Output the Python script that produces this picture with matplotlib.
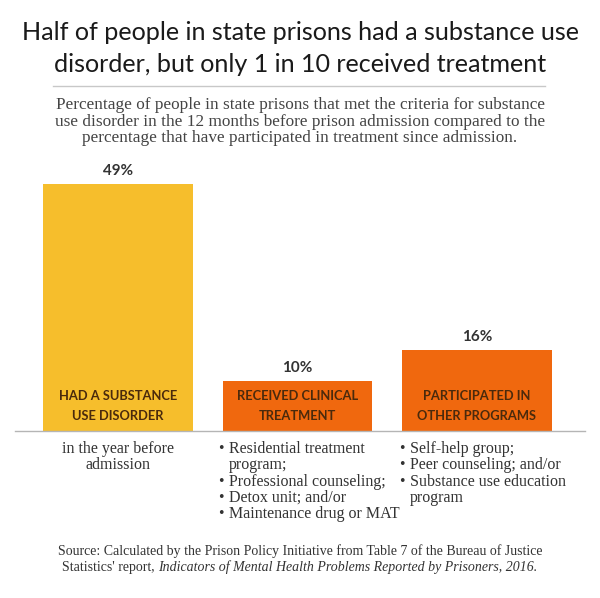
import matplotlib
matplotlib.use("Agg")
import matplotlib.pyplot as plt
from matplotlib.lines import Line2D

# data
values = [49, 10, 16]
bar_labels = [["HAD A SUBSTANCE", "USE DISORDER"],
              ["RECEIVED CLINICAL", "TREATMENT"],
              ["PARTICIPATED IN", "OTHER PROGRAMS"]]
bar_colors = ["#F6BE2C", "#F0680E", "#F0680E"]
notes = [
    ["in the year before", "admission"],
    ["Residential treatment", "program;", "Professional counseling;",
     "Detox unit; and/or", "Maintenance drug or MAT"],
    ["Self-help group;", "Peer counseling; and/or",
     "Substance use education", "program"],
]
# which note lines start with a bullet
note_bullets = [
    [False, False],
    [True, False, True, True, True],
    [True, True, True, False],
]

title_lines = ["Half of people in state prisons had a substance use",
               "disorder, but only 1 in 10 received treatment"]
subtitle_lines = [
    "Percentage of people in state prisons that met the criteria for substance",
    "use disorder in the 12 months before prison admission compared to the",
    "percentage that have participated in treatment since admission.",
]
source_1 = ("Source: Calculated by the Prison Policy Initiative from Table 7 of the "
            "Bureau of Justice")
source_2a = "Statistics' report, "
source_2b = "Indicators of Mental Health Problems Reported by Prisoners, 2016."

SANS = "Lato"
SERIF = "Liberation Serif"
W, H = 600, 598

fig = plt.figure(figsize=(6.0, 5.98), dpi=100)
fig.patch.set_facecolor("white")


def fy(py):
    # pixel from top -> figure fraction
    return 1 - py / H


def fx(px):
    return px / W


# title + rule
for y, line in zip([33, 65], title_lines):
    fig.text(0.5, fy(y), line, ha="center", va="center", fontsize=18.1,
             family=SANS, color="#1a1a1a")
fig.add_artist(Line2D([fx(53), fx(545)], [fy(86), fy(86)],
                      color="#c8c8c8", lw=1.0))
for y, line in zip([105, 122, 138], subtitle_lines):
    fig.text(0.5, fy(y), line, ha="center", va="center", fontsize=12.4,
             family=SERIF, color="#444444")

# bars
base_px = 431
px_per_unit = 5.04
top_lim = 60
ax = fig.add_axes([fx(15), fy(base_px), fx(585) - fx(15),
                   top_lim * px_per_unit / H])
pos = list(range(len(values)))
ax.bar(pos, values, width=0.835, color=bar_colors, zorder=2)
ax.set_xlim(-0.574, 2.602)
ax.set_ylim(0, top_lim)
for s in ["top", "right", "left"]:
    ax.spines[s].set_visible(False)
ax.spines["bottom"].set_color("#b5b5b5")
ax.spines["bottom"].set_linewidth(1.0)
ax.set_xticks([])
ax.set_yticks([])
ax.patch.set_alpha(0)

for p, v, lab in zip(pos, values, bar_labels):
    ax.annotate(f"{v}%", (p, v), xytext=(0, 13), textcoords="offset pixels",
                ha="center", va="center", fontsize=11, family=SANS,
                fontweight="bold", color="#333333")
    for k, line in enumerate(lab):
        ax.annotate(line, (p, 0), xytext=(0, 35 - 20 * k),
                    textcoords="offset pixels", ha="center", va="center",
                    fontsize=9.3, family=SANS, fontweight="bold",
                    color="#4a2a0c")

# notes under the axis
line_h = 16.3
col_x = [118, 218, 399]
for i, (lines, bullets) in enumerate(zip(notes, note_bullets)):
    for j, (txt, b) in enumerate(zip(lines, bullets)):
        y = fy(449 + j * line_h)
        if i == 0:
            fig.text(fx(col_x[i]), y, txt, ha="center", va="center",
                     fontsize=11.5, family=SERIF, color="#333333")
        else:
            if b:
                fig.text(fx(col_x[i]), y, "\u2022", ha="left", va="center",
                         fontsize=11.5, family=SERIF, color="#333333")
            fig.text(fx(col_x[i] + 11), y, txt, ha="left", va="center",
                     fontsize=11.5, family=SERIF, color="#333333")

# source
fig.text(0.5, fy(551), source_1, ha="center", va="center", fontsize=10,
         family=SERIF, color="#333333")
fig.canvas.draw()
r = fig.canvas.get_renderer()
ta = fig.text(0, fy(567), source_2a, ha="left", va="center", fontsize=10,
              family=SERIF, color="#333333")
tb = fig.text(0, fy(567), source_2b, ha="left", va="center", fontsize=10,
              family=SERIF, style="italic", color="#333333")
wa = ta.get_window_extent(r).width
wb = tb.get_window_extent(r).width
x0 = (W - wa - wb) / 2
ta.set_x(fx(x0))
tb.set_x(fx(x0 + wa))

fig.savefig("out.png", dpi=100, facecolor="white")
